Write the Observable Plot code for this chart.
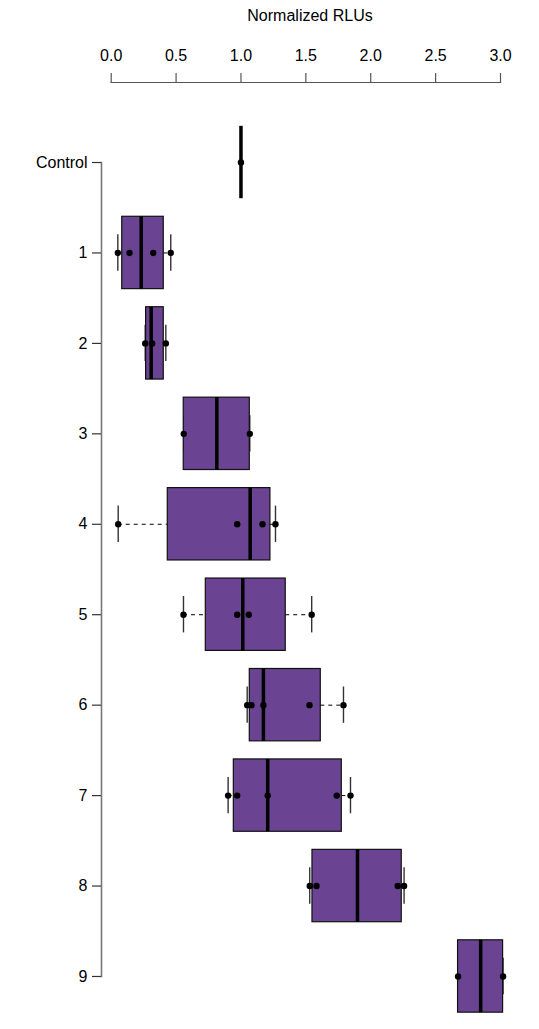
<!DOCTYPE html>
<html><head><meta charset="utf-8">
<script src="https://cdn.jsdelivr.net/npm/d3@7"></script>
<script src="https://cdn.jsdelivr.net/npm/@observablehq/plot@0.6"></script>
<style>body{margin:0;background:#fff} svg{display:block}</style>
</head><body><div id="chart"></div>
<script>
// Categories (top to bottom)
const groups = ["Control", "1", "2", "3", "4", "5", "6", "7", "8", "9"];
// Box statistics (Normalized RLUs)
const lower  = [1.000, 0.051, 0.262, 0.559, 0.054, 0.557, 1.048, 0.901, 1.530, 2.673];
const q1     = [1.000, 0.085, 0.269, 0.559, 0.436, 0.729, 1.068, 0.945, 1.551, 2.673];
const median = [1.000, 0.231, 0.308, 0.814, 1.071, 1.014, 1.173, 1.206, 1.898, 2.847];
const q3     = [1.000, 0.405, 0.405, 1.068, 1.227, 1.345, 1.615, 1.777, 2.239, 3.020];
const upper  = [1.000, 0.459, 0.421, 1.068, 1.266, 1.545, 1.790, 1.844, 2.257, 3.020];
// Individual measurements
const points = [
  [1.000],
  [0.051, 0.141, 0.324, 0.459],
  [0.262, 0.316, 0.421],
  [0.559, 1.068],
  [0.054, 0.971, 1.166, 1.266],
  [0.557, 0.971, 1.060, 1.545],
  [1.048, 1.081, 1.173, 1.528, 1.790],
  [0.901, 0.971, 1.206, 1.738, 1.844],
  [1.530, 1.582, 2.208, 2.257],
  [2.673, 3.020]
];
const xTicks = [0, 0.5, 1, 1.5, 2, 2.5, 3];
const title = "Normalized RLUs";

const boxes = groups.map((g, i) => ({g, lo: lower[i], q1: q1[i], med: median[i], q3: q3[i], hi: upper[i]}));
const dots = groups.flatMap((g, i) => points[i].map(v => ({g, v})));
const caps = boxes.flatMap(d => [{g: d.g, v: d.lo}, {g: d.g, v: d.hi}]);

const purple = "#6a4393";
const font = "Liberation Sans, Arial, Helvetica, sans-serif";

const chart = Plot.plot({
  width: 539,
  height: 1029,
  marginLeft: 101,
  marginRight: 39,
  marginTop: 82,
  marginBottom: 7.8,
  insetLeft: 9.7,
  insetTop: 34.8,
  style: {fontFamily: font, fontSize: "16px", color: "#000", background: "#fff"},
  x: {domain: [0, 3]},
  y: {type: "band", domain: groups, paddingInner: 0.2, paddingOuter: 0.1, round: false},
  marks: [
    Plot.frame({anchor: "top", insetLeft: 9.7, stroke: "#555", strokeWidth: 1.2}),
    Plot.frame({anchor: "left", insetTop: 80, insetBottom: 45.2, stroke: "#777", strokeWidth: 1.6}),
    Plot.axisX({anchor: "top", ticks: xTicks, tickFormat: d3.format(".1f"), tickSize: 10, tickPadding: 11.5, fontSize: 16, stroke: "#555", strokeWidth: 1.2, label: null}),
    Plot.axisY({anchor: "left", tickSize: 9, tickPadding: 5, fontSize: 16, stroke: "#333", strokeWidth: 1.2, label: null}),
    Plot.text([title], {frameAnchor: "top", dx: 9, dy: -73, fontSize: 16, fill: "#000"}),
    Plot.ruleY(boxes, {y: "g", x1: "lo", x2: "q1", stroke: "#000", strokeWidth: 1, strokeDasharray: "4,4"}),
    Plot.ruleY(boxes, {y: "g", x1: "q3", x2: "hi", stroke: "#000", strokeWidth: 1, strokeDasharray: "4,4"}),
    Plot.tickX(caps, {x: "v", y: "g", insetTop: 18, insetBottom: 18, stroke: "#333", strokeWidth: 1.4}),
    Plot.barX(boxes, {x1: "q1", x2: "q3", y: "g", fill: purple, stroke: "#111", strokeWidth: 1.2}),
    Plot.tickX(boxes, {x: "med", y: "g", stroke: "#000", strokeWidth: 3.5}),
    Plot.dot(dots, {x: "v", y: "g", r: 3.2, fill: "#000", stroke: "none"})
  ]
});
document.getElementById("chart").appendChild(chart);
</script>
</body></html>
